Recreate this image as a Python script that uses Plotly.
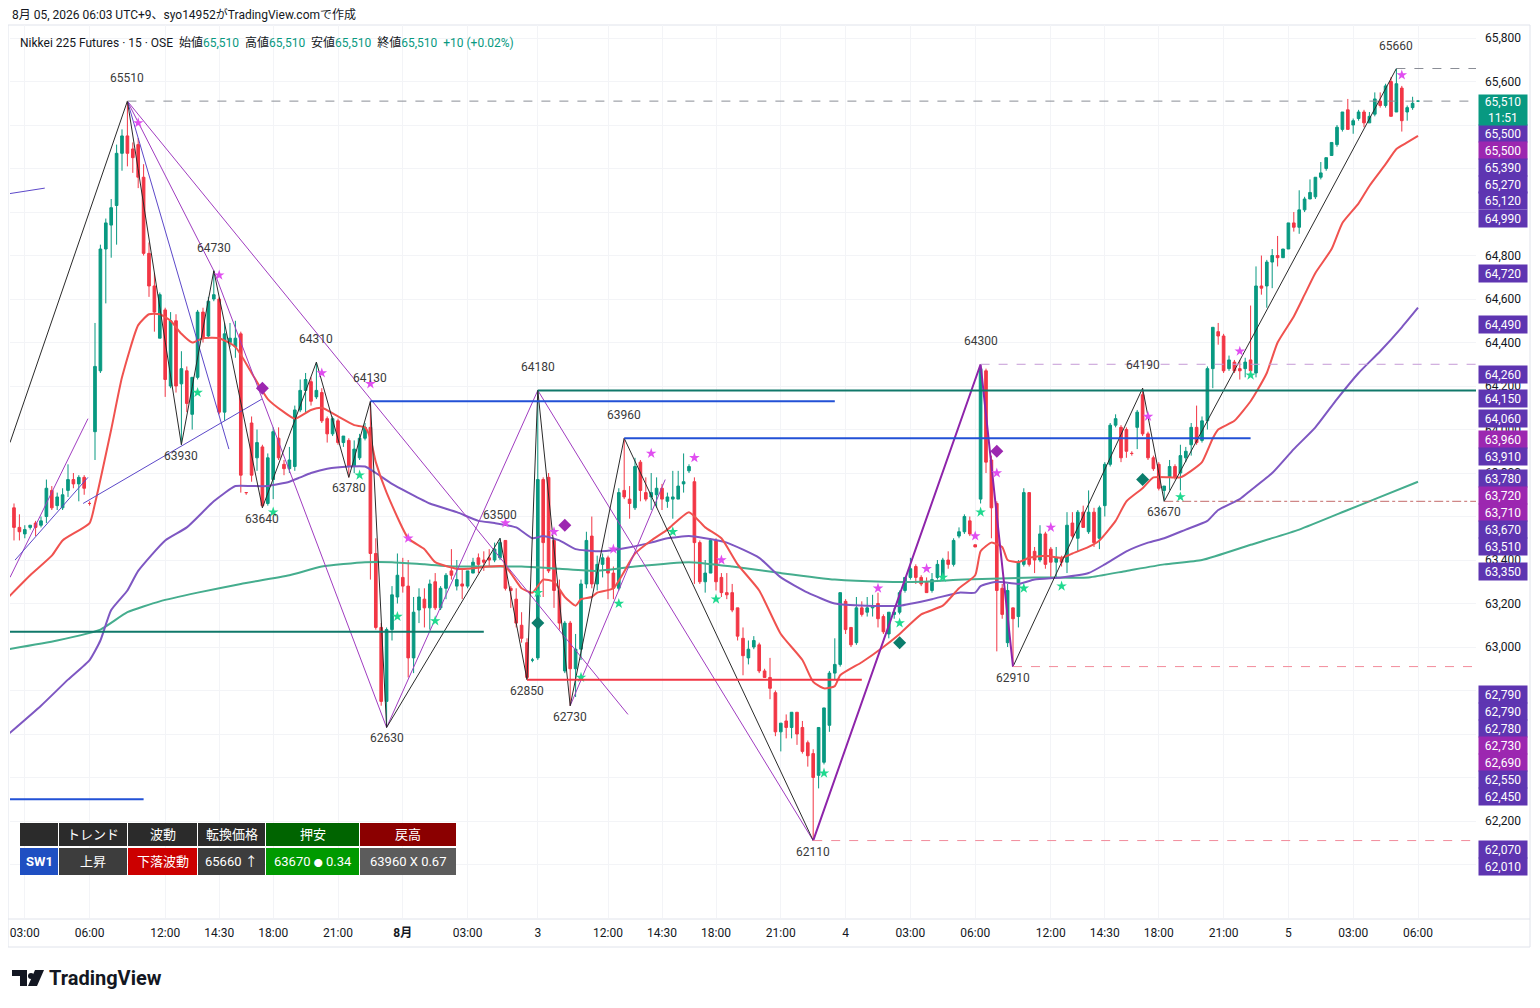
import plotly.graph_objects as go

# Nikkei 225 Futures, 15-minute bars (OSE sessions only), index 0 = 07/31 02:30
opens = [
    63640, 63550, 63520, 63550, 63570, 63560, 63600, 63720, 63650, 63640,
    63720, 63770, 63750, 63780, 63660, 63990, 64270, 64830, 64940, 65030,
    65270, 65350, 65290, 65310, 65160, 64810, 64660, 64420, 64550, 64200,
    64500, 64210, 64270, 64070, 64240, 64540, 64430, 64600, 64600, 64080,
    64400, 64380, 64440, 63710, 64030, 63870, 63920, 63660, 63770, 63960,
    63840, 63820, 63830, 64090, 64180, 64220, 64150, 64170, 64050, 63980,
    64040, 63940, 63950, 63830, 63870, 63960, 64010, 63430, 63090, 62750,
    63080, 63230, 63320, 63280, 62950, 63170, 63220, 63180, 63300, 63180,
    63270, 63350, 63280, 63290, 63280, 63340, 63410, 63400, 63410, 63400,
    63410, 63490, 63270, 63220, 63100, 63020, 62940, 62950, 63770, 63780,
    63490, 63260, 62890, 63110, 62900, 62990, 63290, 63510, 63290, 63380,
    63410, 63340, 63270, 63720, 63680, 63640, 63850, 63710, 63690, 63700,
    63730, 63670, 63680, 63680, 63750, 63810, 63760, 63480, 63300, 63340,
    63490, 63320, 63250, 63250, 63180, 63040, 62950, 63000, 63010, 62890,
    62860, 62790, 62610, 62660, 62630, 62700, 62630, 62560, 62510, 62410,
    62470, 62640, 62880, 62920, 63210, 63090, 63020, 63180, 63160, 63180,
    63200, 63140, 63060, 63150, 63160, 63260, 63320, 63370, 63320, 63300,
    63260, 63320, 63320, 63400, 63380, 63510, 63530, 63580, 63470, 63680,
    64270, 63860, 63660, 63270, 63020, 63180, 63140, 63380, 63710, 63440,
    63400, 63520, 63450, 63390, 63410, 63390, 63570, 63500, 63620, 63530,
    63620, 63500, 63650, 63840, 64020, 64010, 64000, 63890, 64010, 64160,
    63980, 63870, 63840, 63720, 63780, 63830, 63800, 63870, 63930, 64010,
    63950, 64040, 64280, 64450, 64430, 64280, 64310, 64280, 64280, 64320,
    64260, 64660, 64660, 64770, 64800, 64790, 64830, 64950, 64930, 65010,
    65060, 65070, 65160, 65200, 65260, 65310, 65380, 65470, 65400, 65430,
    65460, 65410, 65450, 65510, 65490, 65600, 65460, 65570, 65460, 65480,
    65510,
]
highs = [
    63660, 63610, 63560, 63560, 63580, 63600, 63770, 63740, 63710, 63730,
    63840, 63800, 63790, 63790, 63670, 64490, 64850, 64970, 65060, 65310,
    65380, 65510, 65320, 65340, 65220, 64860, 64720, 64630, 64560, 64540,
    64530, 64360, 64290, 64240, 64550, 64560, 64610, 64730, 64610, 64490,
    64490, 64500, 64450, 63710, 64060, 64000, 63930, 63890, 64010, 64010,
    63860, 63920, 64110, 64230, 64260, 64240, 64310, 64190, 64060, 64060,
    64050, 63970, 63960, 63950, 63980, 64030, 64130, 63500, 63110, 63090,
    63280, 63430, 63410, 63400, 63230, 63270, 63270, 63310, 63340, 63280,
    63340, 63450, 63400, 63360, 63350, 63410, 63430, 63440, 63450, 63480,
    63500, 63490, 63280, 63270, 63160, 63040, 62950, 64180, 63780, 63800,
    63500, 63310, 63120, 63120, 63060, 63310, 63530, 63600, 63420, 63430,
    63420, 63370, 63730, 63960, 63740, 63870, 63860, 63780, 63800, 63780,
    63750, 63710, 63810, 63810, 63890, 63840, 63780, 63490, 63400, 63500,
    63500, 63340, 63340, 63290, 63180, 63090, 63030, 63050, 63020, 62900,
    62950, 62800, 62650, 62690, 62700, 62700, 62660, 62570, 62530, 62630,
    62720, 62890, 63040, 63250, 63220, 63090, 63230, 63210, 63230, 63240,
    63250, 63150, 63160, 63180, 63260, 63320, 63410, 63380, 63330, 63320,
    63340, 63400, 63410, 63440, 63500, 63550, 63610, 63600, 63470, 64300,
    64280, 63880, 63670, 63290, 63290, 63180, 63400, 63730, 63710, 63460,
    63560, 63530, 63460, 63460, 63420, 63620, 63620, 63630, 63650, 63720,
    63640, 63650, 63850, 64030, 64070, 64020, 64010, 63900, 64090, 64190,
    63990, 63880, 63850, 63740, 63860, 63840, 63930, 63920, 64030, 64110,
    64060, 64290, 64470, 64490, 64440, 64340, 64320, 64320, 64330, 64570,
    64750, 64800, 64780, 64830, 64890, 64830, 64950, 65000, 65100, 65070,
    65150, 65160, 65230, 65250, 65320, 65400, 65460, 65520, 65430, 65470,
    65470, 65460, 65550, 65550, 65590, 65620, 65660, 65580, 65490, 65530,
    65510,
]
lows = [
    63490, 63490, 63500, 63540, 63510, 63550, 63570, 63630, 63630, 63630,
    63690, 63730, 63670, 63700, 63650, 63860, 64260, 64580, 64790, 64850,
    65190, 65210, 65180, 65110, 64800, 64610, 64450, 64420, 64150, 64190,
    64170, 63930, 64080, 64000, 64230, 64400, 64420, 64590, 64070, 64040,
    64380, 64330, 63710, 63700, 63760, 63810, 63640, 63650, 63680, 63860,
    63790, 63800, 63810, 64080, 64080, 64110, 64140, 64030, 63940, 63970,
    63930, 63920, 63780, 63800, 63860, 63950, 63310, 63080, 62730, 62630,
    63030, 63200, 63250, 62860, 62880, 63110, 63090, 63080, 63170, 63170,
    63220, 63310, 63260, 63220, 63270, 63340, 63340, 63350, 63370, 63390,
    63400, 63260, 63180, 63090, 63020, 62850, 62930, 62940, 63230, 63340,
    63180, 63080, 62880, 62730, 62770, 62940, 63270, 63270, 63260, 63320,
    63220, 63220, 63260, 63680, 63590, 63630, 63670, 63670, 63630, 63640,
    63630, 63640, 63590, 63680, 63710, 63800, 63290, 63290, 63250, 63340,
    63260, 63230, 63220, 63160, 63030, 62870, 62920, 62990, 62880, 62860,
    62760, 62590, 62520, 62580, 62580, 62550, 62510, 62450, 62110, 62350,
    62460, 62610, 62850, 62910, 63060, 63000, 63010, 63140, 63140, 63140,
    63090, 63060, 63040, 63130, 63150, 63250, 63310, 63290, 63280, 63250,
    63250, 63310, 63320, 63360, 63370, 63500, 63520, 63510, 63460, 63660,
    63800, 63500, 62980, 63130, 63000, 62910, 63090, 63370, 63370, 63340,
    63390, 63360, 63320, 63320, 63370, 63340, 63500, 63440, 63550, 63520,
    63460, 63450, 63600, 63830, 64010, 63850, 63870, 63880, 63910, 63970,
    63860, 63810, 63720, 63670, 63720, 63770, 63720, 63850, 63880, 63930,
    63940, 64000, 64190, 64390, 64260, 64270, 64260, 64230, 64240, 64260,
    64240, 64620, 64560, 64650, 64750, 64790, 64830, 64910, 64900, 65000,
    65060, 65060, 65150, 65190, 65260, 65300, 65370, 65380, 65360, 65420,
    65390, 65410, 65440, 65480, 65480, 65440, 65460, 65370, 65420, 65470,
    65510,
]
closes = [
    63550, 63530, 63540, 63560, 63550, 63580, 63730, 63640, 63690, 63700,
    63770, 63750, 63780, 63730, 63660, 64290, 64830, 64950, 65020, 65270,
    65350, 65270, 65250, 65160, 64810, 64660, 64540, 64620, 64230, 64500,
    64200, 64280, 64120, 64240, 64540, 64420, 64590, 64620, 64080, 64440,
    64420, 64420, 63790, 63710, 63790, 63940, 63650, 63870, 63990, 63870,
    63820, 63860, 64090, 64180, 64230, 64130, 64180, 64040, 63980, 64050,
    63940, 63970, 63830, 63910, 63960, 64010, 63430, 63090, 62750, 63080,
    63240, 63330, 63280, 62950, 63160, 63230, 63180, 63290, 63180, 63270,
    63330, 63330, 63310, 63280, 63350, 63390, 63380, 63390, 63400, 63450,
    63480, 63270, 63260, 63110, 63040, 62860, 62940, 63770, 63480, 63350,
    63260, 63110, 63110, 62900, 62990, 63290, 63490, 63290, 63380, 63410,
    63340, 63270, 63710, 63690, 63660, 63830, 63720, 63680, 63710, 63730,
    63680, 63690, 63690, 63740, 63760, 63830, 63480, 63300, 63340, 63490,
    63300, 63250, 63240, 63170, 63050, 62960, 62990, 63030, 62890, 62860,
    62810, 62610, 62650, 62630, 62700, 62600, 62520, 62500, 62400, 62630,
    62720, 62880, 62920, 63250, 63080, 63010, 63180, 63150, 63180, 63190,
    63130, 63070, 63160, 63160, 63250, 63320, 63360, 63320, 63290, 63250,
    63310, 63380, 63400, 63380, 63490, 63530, 63600, 63520, 63460, 64280,
    63850, 63640, 63260, 63150, 63260, 63130, 63390, 63710, 63380, 63400,
    63520, 63380, 63390, 63410, 63390, 63560, 63510, 63620, 63550, 63620,
    63480, 63640, 63840, 64020, 64050, 63870, 63900, 63890, 64080, 63980,
    63870, 63820, 63730, 63740, 63830, 63780, 63880, 63900, 64010, 63940,
    64040, 64280, 64470, 64430, 64270, 64320, 64270, 64270, 64310, 64270,
    64660, 64650, 64770, 64800, 64790, 64830, 64950, 64930, 65010, 65060,
    65090, 65160, 65180, 65250, 65320, 65390, 65460, 65380, 65420, 65460,
    65410, 65440, 65520, 65490, 65580, 65440, 65590, 65420, 65480, 65500,
    65510,
]
bars = list(range(len(closes)))

# moving averages (bar index, price)
ma_fast_x = [-1, 3, 7, 9, 14, 15, 18, 20, 23, 25, 27, 29, 31, 33, 35, 38, 41, 44, 47, 50,
             52, 55, 57, 60, 63, 65, 66, 67, 69, 73, 76, 78, 82, 84, 88, 91, 94, 96, 98, 100,
             102, 104, 105, 107, 108, 111, 115, 118, 121, 125, 128, 131, 134, 138, 142, 146, 148, 150, 152, 153,
             157, 161, 164, 168, 172, 175, 178, 179, 181, 183, 184, 186, 188, 191, 194, 196, 199, 201, 204, 206,
             209, 211, 214, 216, 218, 220, 222, 223, 226, 229, 230, 232, 234, 237, 239, 241, 244, 246, 249, 251,
             254, 256, 258, 260]
ma_fast_y = [63230, 63330, 63420, 63490, 63570, 63660, 64000, 64240, 64480, 64530, 64530, 64500, 64440, 64400, 64420, 64420, 64380, 64260, 64140, 64080,
             64050, 64090, 64100, 64060, 64020, 64010, 63960, 63850, 63710, 63500, 63450, 63390, 63360, 63360, 63370, 63370, 63270, 63250, 63310, 63300,
             63230, 63190, 63220, 63230, 63250, 63270, 63430, 63490, 63540, 63620, 63550, 63500, 63380, 63260, 63060, 62940, 62840, 62810, 62820, 62870,
             62930, 63000, 63060, 63150, 63190, 63270, 63330, 63440, 63480, 63460, 63400, 63390, 63410, 63420, 63410, 63430, 63460, 63490, 63580, 63670,
             63730, 63780, 63780, 63780, 63810, 63850, 63960, 64000, 64040, 64130, 64170, 64260, 64400, 64520, 64620, 64720, 64830, 64950, 65040, 65120,
             65220, 65290, 65320, 65350]
ma_mid_x = [-1, 5, 10, 14, 16, 18, 21, 23, 28, 32, 37, 41, 44, 47, 51, 53, 55, 58, 62, 65,
            67, 70, 73, 77, 82, 86, 89, 93, 96, 98, 101, 104, 108, 112, 118, 121, 125, 128, 132, 138,
            142, 147, 152, 158, 164, 170, 175, 178, 179, 182, 186, 189, 194, 199, 202, 206, 210, 213, 217, 221,
            223, 227, 229, 233, 237, 241, 245, 249, 253, 257, 260]
ma_mid_y = [62600, 62730, 62850, 62940, 63030, 63170, 63260, 63350, 63490, 63550, 63670, 63740, 63740, 63740, 63760, 63780, 63800, 63820, 63830, 63830,
            63800, 63750, 63710, 63660, 63620, 63580, 63570, 63550, 63500, 63510, 63490, 63450, 63440, 63450, 63480, 63500, 63510, 63500, 63480, 63410,
            63320, 63250, 63200, 63190, 63190, 63220, 63250, 63250, 63280, 63300, 63290, 63310, 63320, 63340, 63380, 63440, 63480, 63500, 63540, 63580,
            63630, 63680, 63720, 63800, 63910, 64010, 64140, 64260, 64360, 64470, 64560]
ma_slow_x = [-1, 8, 16, 21, 27, 34, 42, 51, 57, 65, 70, 76, 82, 88, 94, 101, 108, 115, 125, 133,
             142, 152, 161, 168, 176, 189, 199, 206, 213, 220, 229, 238, 247, 252, 260]
ma_slow_y = [62990, 63030, 63080, 63160, 63210, 63250, 63290, 63330, 63370, 63390, 63390, 63380, 63370, 63370, 63370, 63360, 63350, 63370, 63390, 63370,
             63340, 63310, 63300, 63300, 63310, 63320, 63320, 63350, 63380, 63400, 63470, 63540, 63630, 63680, 63760]

# swing highs / lows (zigzag pivots)
swing_idx = [21, 31, 37, 46, 56, 62, 66, 69, 90, 95, 97, 103, 113, 148, 179, 185, 209, 213, 256]
swing_val = [65510, 63930, 64730, 63640, 64310, 63780, 64130, 62630, 63500, 62850, 64180, 62730, 63960, 62110, 64300, 62910, 64190, 63670, 65660]
swing_top = [1, 0, 1, 0, 1, 0, 1, 0, 1, 0, 1, 0, 1, 0, 1, 0, 1, 0, 1]

zz_x = [-0.74, 21, 31, 37, 46, 56, 62, 66, 69, 90, 95, 97, 103, 113, 148, None, 185, 209, 213, 256]
zz_y = [63940, 65510, 63930, 64730, 63640, 64310, 63780, 64130, 62630, 63500, 62850, 64180, 62730, 63960, 62110, None, 62910, 64190, 63670, 65660]
wave_x = [148, 179, 185]
wave_y = [62110, 64300, 62910]

# trend lines (x0, y0, x1, y1)
violet_lines = [(21, 65510, 37, 64730), (21, 65510, 113.7, 62690), (37, 64730, 69, 62630),
                (69, 62630, 97, 64180), (97, 64180, 148, 62110), (103, 62730, 120.6, 63770),
                (-0.74, 63320, 13.7, 64050)]
indigo_lines = [(-0.74, 65085, 5.7, 65110), (0.2, 63400, 13.7, 63780),
                (12.8, 63660, 45.9, 64140), (21, 65510, 39.8, 63910)]

# horizontal levels (x0, x1, price)
RIGHT = 270.74
LEFT = -0.74
teal_levels = [(LEFT, 87, 63070), (97, RIGHT, 64180)]
blue_levels = [(66, 152, 64130), (113, 229, 63960), (LEFT, 24, 62300)]
red_levels = [(95, 157, 62850)]
gray_dash = [(21, RIGHT, 65510), (256, RIGHT, 65660)]
pink_dash = [(185, RIGHT, 62910), (148, RIGHT, 62110)]
lilac_dash = [(179, RIGHT, 64300)]
brown_dash = [(213, RIGHT, 63670)]

# signal markers
pink_star_x = [23, 38, 57, 66, 73, 91, 100, 111, 118, 126, 131, 160, 169, 178, 182, 192, 210, 227, 257]
pink_star_y = [65410, 64710, 64260, 64210, 63500, 63570, 63530, 63450, 63890, 63870, 63400, 63270, 63360, 63510, 63800, 63550, 64060, 64360, 65630]
green_star_x = [34, 48, 64, 71, 78, 97, 105, 112, 122, 130, 150, 164, 172, 179, 187, 194, 216, 229]
green_star_y = [64170, 63620, 63790, 63140, 63120, 63250, 62860, 63200, 63530, 63220, 62420, 63110, 63320, 63620, 63270, 63280, 63690, 64250]
purple_dia_x = [46, 102, 182]
purple_dia_y = [64190, 63560, 63900]
teal_dia_x = [97, 164, 209]
teal_dia_y = [63110, 63020, 63770]

# axes
tick_idx = [2, 14, 28, 38, 48, 60, 72, 84, 97, 110, 120, 130, 142, 154, 166, 178, 192, 202, 212, 224, 236, 248, 260]
tick_txt = ["03:00", "06:00", "12:00", "14:30", "18:00", "21:00", "<b>8月</b>", "03:00", "3", "12:00", "14:30",
            "18:00", "21:00", "4", "03:00", "06:00", "12:00", "14:30", "18:00", "21:00", "5", "03:00", "06:00"]
price_ticks = [62000, 62200, 62400, 62600, 62800, 63000, 63200, 63400, 63600, 63800,
               64000, 64200, 64400, 64600, 64800, 65000, 65200, 65400, 65600, 65800]
covered_ticks = [62000, 62400, 62600, 62800, 63600, 65000, 65200, 65400]  # hidden under the tags

# price scale tags
tag_txt = ["65,500", "65,500", "65,390", "65,270", "65,120", "64,990", "64,720", "64,490", "64,260", "64,150",
           "64,060", "63,960", "63,910", "63,780", "63,720", "63,710", "63,670", "63,510", "63,350", "62,790",
           "62,790", "62,780", "62,730", "62,690", "62,550", "62,450", "62,070", "62,010"]
tag_kind = ["p", "m", "p", "p", "p", "p", "p", "p", "p", "p",
            "p", "m", "p", "p", "m", "m", "p", "p", "p", "p",
            "p", "p", "m", "m", "p", "p", "p", "p"]
tag_pos_px = [133, 150, 167, 184, 201, 218, 273, 324, 374, 398,
              418, 439, 456, 478, 495, 512, 529, 546, 571, 694,
              711, 728, 745, 762, 779, 796, 849, 866]

# status table
tbl_head = ["", "トレンド", "波動", "転換価格", "押安", "戻高"]
tbl_row = ["<b>SW1</b>", "上昇", "下落波動", "65660 ↑",
           "63670 <span style='font-size:9px'>●</span> 0.34", "63960 X 0.67"]

# ---------------- layout helpers ----------------
# page is shown with an 8px body margin, so the figure is 8px smaller on each side
W, H = 1524, 992
ML, MR, MT, MB = 2, 56, 17, 82
PW, PH = W - ML - MR, H - MT - MB


def fx(px):  # page pixel -> paper
    return (px - 8 - ML) / PW


def fy(py):
    return (H - MB - (py - 8)) / PH


FONT = "Roboto, 'Noto Sans CJK JP', sans-serif"
UP, DOWN = "#089981", "#f23645"

fig = go.Figure()

fig.add_trace(go.Candlestick(
    x=bars, open=opens, high=highs, low=lows, close=closes,
    increasing=dict(line=dict(color=UP, width=1), fillcolor=UP),
    decreasing=dict(line=dict(color=DOWN, width=1), fillcolor=DOWN),
    hoverinfo="skip", showlegend=False,
))

for xs, ys, col in [(ma_slow_x, ma_slow_y, "#45ad8e"), (ma_mid_x, ma_mid_y, "#7e57c2"),
                    (ma_fast_x, ma_fast_y, "#f0524f")]:
    fig.add_trace(go.Scatter(x=xs, y=ys, mode="lines", line=dict(color=col, width=2, shape="spline", smoothing=0.5),
                             hoverinfo="skip", showlegend=False))


def seg_trace(lines, color, width):
    xs, ys = [], []
    for x0, y0, x1, y1 in lines:
        xs += [x0, x1, None]
        ys += [y0, y1, None]
    return go.Scatter(x=xs, y=ys, mode="lines", line=dict(color=color, width=width),
                      hoverinfo="skip", showlegend=False)


fig.add_trace(seg_trace(violet_lines, "#a03cc0", 1))
fig.add_trace(seg_trace(indigo_lines, "#5c48c9", 1))
fig.add_trace(go.Scatter(x=zz_x, y=zz_y, mode="lines", line=dict(color="#2a2a2a", width=1),
                         hoverinfo="skip", showlegend=False, connectgaps=False))
fig.add_trace(go.Scatter(x=wave_x, y=wave_y, mode="lines", line=dict(color="#8e24aa", width=2),
                         hoverinfo="skip", showlegend=False))

shapes = []
for levels, col, w, dash in [(teal_levels, "#10786a", 2, "solid"), (blue_levels, "#2251d6", 2, "solid"),
                             (red_levels, "#f23645", 2, "solid"), (gray_dash, "#8a8d96", 1, "dash"),
                             (pink_dash, "#f28b9b", 1, "dash"), (lilac_dash, "#c59ad6", 1, "dash"),
                             (brown_dash, "#c46a6a", 1, "dashdot")]:
    for x0, x1, y in levels:
        shapes.append(dict(type="line", xref="x", yref="y", x0=x0, x1=x1, y0=y, y1=y,
                           line=dict(color=col, width=w, dash=dash)))

fig.add_trace(go.Scatter(x=pink_star_x, y=pink_star_y, mode="markers",
                         marker=dict(symbol="star", size=8, color="#e04ef0"), hoverinfo="skip", showlegend=False))
fig.add_trace(go.Scatter(x=green_star_x, y=green_star_y, mode="markers",
                         marker=dict(symbol="star", size=8, color="#1fd98f"), hoverinfo="skip", showlegend=False))
fig.add_trace(go.Scatter(x=purple_dia_x, y=purple_dia_y, mode="markers",
                         marker=dict(symbol="diamond", size=10, color="#9c27b0"), hoverinfo="skip", showlegend=False))
fig.add_trace(go.Scatter(x=teal_dia_x, y=teal_dia_y, mode="markers",
                         marker=dict(symbol="diamond", size=10, color="#0b7d6c"), hoverinfo="skip", showlegend=False))

annotations = []
for i, v, top in zip(swing_idx, swing_val, swing_top):
    annotations.append(dict(x=i, y=v, xref="x", yref="y", text=str(v), showarrow=False,
                            yshift=23 if top else -11, font=dict(size=12, color="#3a3a3a", family=FONT)))

# price scale tags
PURPLE, MAGENTA = "#5e35b1", "#9c27b0"
for t, k, p in zip(tag_txt, tag_kind, tag_pos_px):
    annotations.append(dict(xref="paper", yref="paper", x=fx(1478), y=fy(p), xanchor="left", yanchor="middle",
                            text=t, showarrow=False, width=46, height=15, borderpad=1,
                            bgcolor=PURPLE if k == "p" else MAGENTA,
                            font=dict(size=12, color="white", family=FONT)))
annotations.append(dict(xref="paper", yref="paper", x=fx(1478), y=fy(110), xanchor="left", yanchor="middle",
                        text="65,510<br>11:51", showarrow=False, width=46, height=28, borderpad=1,
                        bgcolor=UP, font=dict(size=12, color="white", family=FONT)))

# header texts
annotations.append(dict(xref="paper", yref="paper", x=fx(10), y=fy(14), xanchor="left", yanchor="middle",
                        text="8月 05, 2026 06:03 UTC+9、syo14952がTradingView.comで作成", showarrow=False,
                        font=dict(size=12, color="#131722", family=FONT)))
g = "<span style='color:#089981'>%s</span>"
legend_txt = ("Nikkei 225 Futures · 15 · OSE&nbsp;&nbsp;始値" + g % "65,510" + "&nbsp;&nbsp;高値" + g % "65,510"
              + "&nbsp;&nbsp;安値" + g % "65,510" + "&nbsp;&nbsp;終値" + g % "65,510"
              + "&nbsp;&nbsp;" + g % "+10 (+0.02%)")
annotations.append(dict(xref="paper", yref="paper", x=fx(18), y=fy(42), xanchor="left", yanchor="middle",
                        text=legend_txt, showarrow=False, font=dict(size=12, color="#131722", family=FONT)))

# table
col_px = [(20, 58), (59, 127), (128, 197), (198, 265), (266, 359), (360, 456)]
head_bg = ["#2b2b2b", "#2b2b2b", "#2b2b2b", "#2b2b2b", "#006400", "#8b0000"]
row_bg = ["#1f4fc2", "#3d3d3d", "#cc0000", "#3d3d3d", "#009a00", "#5c5c5c"]
for (x0, x1), hb, rb, ht, rt in zip(col_px, head_bg, row_bg, tbl_head, tbl_row):
    shapes.append(dict(type="rect", xref="paper", yref="paper", x0=fx(x0), x1=fx(x1), y0=fy(846), y1=fy(823),
                       fillcolor=hb, line=dict(width=0), layer="above"))
    shapes.append(dict(type="rect", xref="paper", yref="paper", x0=fx(x0), x1=fx(x1), y0=fy(875), y1=fy(848),
                       fillcolor=rb, line=dict(width=0), layer="above"))
    annotations.append(dict(xref="paper", yref="paper", x=fx((x0 + x1) / 2), y=fy(834.5), text=ht, showarrow=False,
                            xanchor="center", yanchor="middle", font=dict(size=13, color="white", family=FONT)))
    annotations.append(dict(xref="paper", yref="paper", x=fx((x0 + x1) / 2), y=fy(861.5), text=rt, showarrow=False,
                            xanchor="center", yanchor="middle", font=dict(size=13, color="white", family=FONT)))

# frame
shapes.append(dict(type="rect", xref="paper", yref="paper", x0=fx(8), x1=fx(1530), y0=fy(947), y1=fy(25),
                   line=dict(color="#e0e3eb", width=1), layer="below"))
shapes.append(dict(type="line", xref="paper", yref="paper", x0=fx(8), x1=fx(1530), y0=fy(919), y1=fy(919),
                   line=dict(color="#e0e3eb", width=1)))


# TradingView logo
def ppath(pts):
    return "M" + " L".join("%f,%f" % (fx(a), fy(b)) for a, b in pts) + " Z"


shapes.append(dict(type="path", xref="paper", yref="paper",
                   path=ppath([(12, 970), (27, 970), (27, 986), (20, 986), (20, 976), (12, 976)]),
                   fillcolor="#131722", line=dict(width=0)))
shapes.append(dict(type="circle", xref="paper", yref="paper", x0=fx(28), x1=fx(34), y0=fy(979), y1=fy(973),
                   fillcolor="#131722", line=dict(width=0)))
shapes.append(dict(type="path", xref="paper", yref="paper",
                   path=ppath([(35, 970), (44, 970), (37, 986), (28, 986)]),
                   fillcolor="#131722", line=dict(width=0)))
annotations.append(dict(xref="paper", yref="paper", x=fx(47), y=fy(978), xanchor="left", yanchor="middle",
                        text="<b>TradingView</b>", showarrow=False,
                        font=dict(size=20, color="#131722", family=FONT)))

fig.update_layout(
    width=W, height=H,
    margin=dict(l=ML, r=MR, t=MT, b=MB),
    paper_bgcolor="white", plot_bgcolor="white",
    showlegend=False,
    font=dict(family=FONT, size=12, color="#131722"),
    shapes=shapes, annotations=annotations,
    xaxis=dict(range=[LEFT, RIGHT], tickvals=tick_idx, ticktext=tick_txt, showgrid=True,
               gridcolor="#f3f4f7", zeroline=False, ticks="", rangeslider=dict(visible=False),
               ticklabelstandoff=6, tickfont=dict(size=12, color="#131722")),
    yaxis=dict(side="right", range=[61754, 65860], tickvals=price_ticks,
               ticktext=["" if v in covered_ticks else "{:,}".format(v) for v in price_ticks],
               showgrid=True, gridcolor="#f3f4f7", ticklabelstandoff=8,
               zeroline=False, ticks="", tickfont=dict(size=12, color="#131722")),
)

fig.write_html("out.html")
